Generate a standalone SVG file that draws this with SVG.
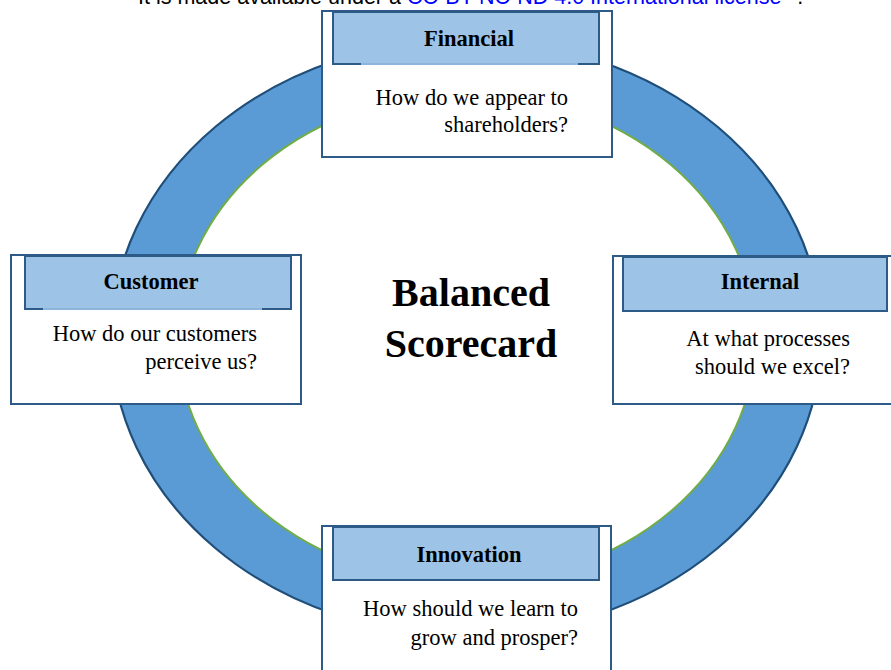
<svg xmlns="http://www.w3.org/2000/svg" width="891" height="670" viewBox="0 0 891 670">
<style>
.box{fill:#ffffff;stroke:#2E5A88;stroke-width:2}
.hdr{fill:#9DC3E6;stroke:#2E5A88;stroke-width:2}
.title{font-family:"Liberation Serif","Times New Roman",serif;font-size:22.5px;font-weight:bold;fill:#000;text-anchor:middle}
.body{font-family:"Liberation Serif","Times New Roman",serif;font-size:22.5px;fill:#000;text-anchor:end}
.center{font-family:"Liberation Serif","Times New Roman",serif;font-size:40px;font-weight:bold;fill:#000;text-anchor:middle}
.top{font-family:"Liberation Sans",Arial,sans-serif;font-size:21.5px;fill:#000}
</style>
<rect width="891" height="670" fill="#ffffff"/>
<text class="top" x="138" y="4">It is made available under a <tspan fill="#0000FF">CC-BY-NC-ND 4.0 International license</tspan><tspan dx="16">.</tspan></text>
<g id="connectors">
<path d="M111.5,337.5 A355,298 0 1,0 821.5,337.5 A355,298 0 1,0 111.5,337.5 Z M177.5,338 A289,245 0 1,0 755.5,338 A289,245 0 1,0 177.5,338 Z" fill="#5B9BD5" fill-rule="evenodd"/>
<ellipse cx="466.5" cy="337.5" rx="355" ry="298" fill="none" stroke="#1F4E79" stroke-width="2.2"/>
<ellipse cx="466.5" cy="338" rx="289" ry="245" fill="none" stroke="#70AD47" stroke-width="2"/>
</g>
<g id="center">
<text class="center" x="471" y="306">Balanced</text>
<text class="center" x="471" y="357">Scorecard</text>
</g>
<g id="financial">
<rect class="box" x="322" y="11" width="290" height="146"/>
<rect class="hdr" x="333" y="12" width="266" height="52"/>
<line x1="361" y1="64" x2="578" y2="64" stroke="#8FB4DA" stroke-width="2"/>
<text class="title" x="469" y="46">Financial</text>
<text class="body" x="568" y="105">How do we appear to</text>
<text class="body" x="568" y="132">shareholders?</text>
</g>
<g id="customer">
<rect class="box" x="11" y="255" width="290" height="149"/>
<rect class="hdr" x="25" y="256" width="266" height="53"/>
<line x1="43" y1="309" x2="262" y2="309" stroke="#8FB4DA" stroke-width="2"/>
<text class="title" x="151" y="289">Customer</text>
<text class="body" x="257" y="341">How do our customers</text>
<text class="body" x="257" y="369">perceive us?</text>
</g>
<g id="internal">
<rect class="box" x="613" y="256" width="290" height="148"/>
<rect class="hdr" x="623" y="257" width="264" height="54"/>
<text class="title" x="760" y="289">Internal</text>
<text class="body" x="850" y="346">At what processes</text>
<text class="body" x="850" y="374">should we excel?</text>
</g>
<g id="innovation">
<rect class="box" x="322" y="526" width="289" height="160"/>
<rect class="hdr" x="333" y="527" width="266" height="53"/>
<text class="title" x="469" y="562">Innovation</text>
<text class="body" x="578" y="616">How should we learn to</text>
<text class="body" x="578" y="645">grow and prosper?</text>
</g>
</svg>
